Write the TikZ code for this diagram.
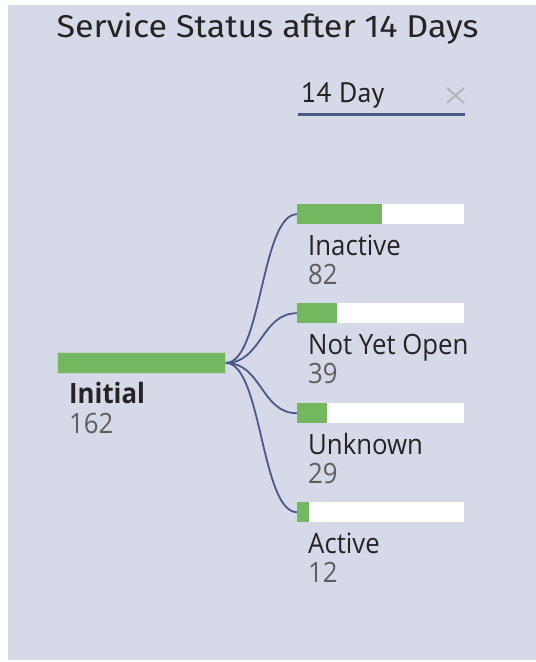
\documentclass[tikz,border=0pt]{standalone}
\usepackage{fontspec}
\setmainfont[FakeStretch=0.92]{Open Sans}
\newfontfamily\titlefont[FakeStretch=1.08]{Fira Sans}
\newfontfamily\filterfont{PT Sans}
\definecolor{pagebg}{HTML}{D6D9E8}
\definecolor{barfill}{HTML}{73B761}
\definecolor{linkcol}{HTML}{4A588A}
\definecolor{labcol}{HTML}{252423}
\definecolor{numcol}{HTML}{605E5C}

\begin{document}
\begin{tikzpicture}[x=1pt, y=-1pt,
    track/.style={fill=white, inner sep=0pt, minimum width=167pt, minimum height=20pt},
    initbar/.style={fill=barfill, draw=black!20, line width=0.8pt, inner sep=0pt, minimum width=168pt, minimum height=21pt},
    lab/.style={text=labcol, inner sep=0pt, font=\fontsize{28}{30}\selectfont},
    num/.style={text=numcol, inner sep=0pt, font=\fontsize{28}{30}\selectfont},
    link/.style={linkcol, line width=1.8pt}]
  \useasboundingbox (0,0) rectangle (536,662);
  \fill[pagebg] (8,5) rectangle (536,660);

  % title and filter
  \node[anchor=base, inner sep=0pt, text=labcol, font=\titlefont\fontsize{31.5}{33}\selectfont] (title) at (267.5,37) {Service Status after 14 Days};
  \node[anchor=base west, inner sep=0pt, text=labcol, font=\filterfont\fontsize{28}{30}\selectfont] (filter) at (301,102) {14 Day};
  \draw[linkcol, line width=3.5pt] (298,114.5) -- (465,114.5);
  \draw[black!30, line width=1.8pt] (447,88) -- (464,103) (447,103) -- (464,88);

  % root
  \node[initbar, anchor=north west] (initial) at (57,352) {};
  \node[lab, anchor=base west, font=\fontsize{28}{30}\selectfont\bfseries] (initial-lab) at (69,403) {Initial};
  \node[num, anchor=base west] (initial-num) at (69,433) {162};

  % children
  \foreach \nm/\lab/\val/\y in {inactive/Inactive/82/204, notyet/Not Yet Open/39/303,
                                unknown/Unknown/29/403, active/Active/12/502} {
    \node[track, anchor=north west] (\nm) at (297,\y) {};
    \fill[barfill] (\nm.north west) rectangle ++({167*\val/162},20);
    \node[lab, anchor=base west] (\nm-lab) at (308,\y+51) {\lab};
    \node[num, anchor=base west] (\nm-num) at (308,\y+80) {\val};
    \draw[link] (initial.east) .. controls +(36,0) and +(-36,0) .. (\nm.west);
  }
\end{tikzpicture}
\end{document}
